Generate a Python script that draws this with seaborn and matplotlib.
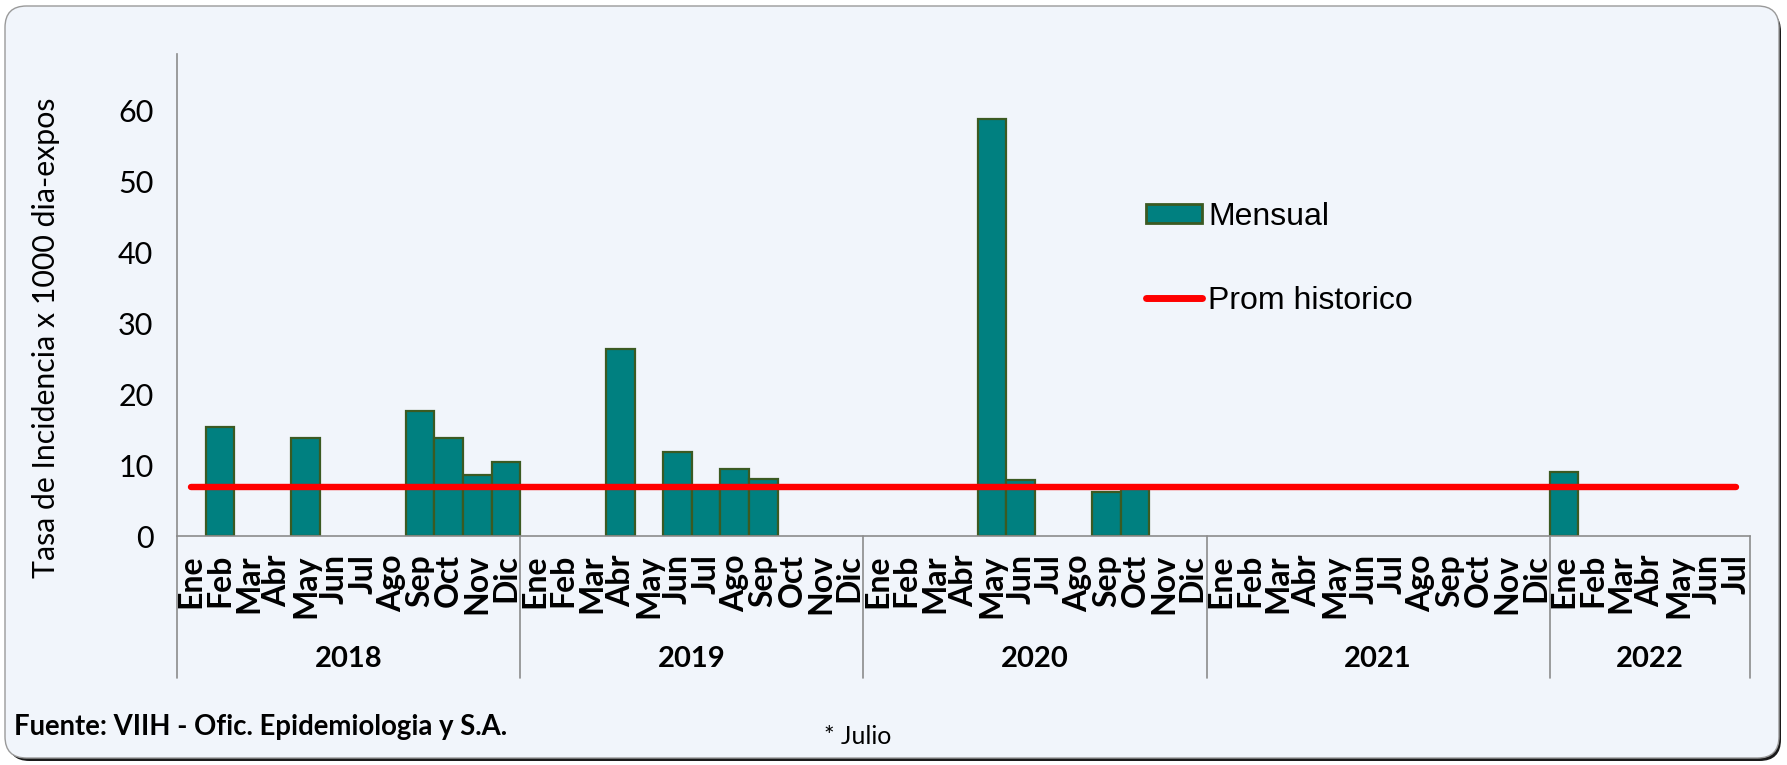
import numpy as np
import pandas as pd
import matplotlib
matplotlib.use("Agg")
import matplotlib.pyplot as plt
import matplotlib.transforms as mtransforms
from matplotlib.patches import FancyBboxPatch, Patch
from matplotlib.lines import Line2D
import seaborn as sns

# ---------------- data ----------------
years = ["2018", "2019", "2020", "2021", "2022"]
months_full = ["Ene", "Feb", "Mar", "Abr", "May", "Jun", "Jul", "Ago", "Sep", "Oct", "Nov", "Dic"]
months_per_year = [12, 12, 12, 12, 7]

v2018 = [np.nan, 15.4, np.nan, np.nan, 13.8, np.nan, np.nan, np.nan, 17.6, 13.8, 8.6, 10.5]
v2019 = [np.nan, np.nan, np.nan, 26.4, np.nan, 11.8, 7.0, 9.5, 8.0, np.nan, np.nan, np.nan]
v2020 = [np.nan, np.nan, np.nan, np.nan, 58.8, 7.9, np.nan, np.nan, 6.2, 6.9, np.nan, np.nan]
v2021 = [np.nan] * 12
v2022 = [9.0, np.nan, np.nan, np.nan, np.nan, np.nan, np.nan]
prom_historico = 6.9

series_label = "Mensual"
line_label = "Prom historico"
y_label = "Tasa de Incidencia x 1000 dia-expos"
y_ticks = [0, 10, 20, 30, 40, 50, 60]
source_text = "Fuente: VIIH - Ofic. Epidemiologia y S.A."
note_text = "* Julio"

# ---------------- build table ----------------
values_by_year = [v2018, v2019, v2020, v2021, v2022]
rows = []
for yr, n, vals in zip(years, months_per_year, values_by_year):
    for m, v in zip(months_full[:n], vals):
        rows.append({"key": f"{yr}-{m}", "year": yr, "mes": m, "valor": v})
df = pd.DataFrame(rows)
order = list(df["key"])
n_cat = len(order)

# ---------------- styling ----------------
sns.set_theme(style="white")
plt.rcParams["font.family"] = ["Lato", "DejaVu Sans"]

W, H = 1787, 765
fig = plt.figure(figsize=(W / 100, H / 100), dpi=100)
fig.patch.set_facecolor("white")

# outer rounded frame with shadow
shadow = FancyBboxPatch((8 / W, 4 / H), (W - 14) / W, (H - 14) / H,
                        boxstyle="round,pad=0,rounding_size=0.012",
                        transform=fig.transFigure, facecolor="#1a1a1a",
                        edgecolor="none", zorder=-2, mutation_aspect=W / H)
fig.patches.append(shadow)
frame = FancyBboxPatch((5 / W, 7 / H), (W - 13) / W, (H - 13) / H,
                       boxstyle="round,pad=0,rounding_size=0.012",
                       transform=fig.transFigure, facecolor="#f1f5fb",
                       edgecolor="#9a9a9a", linewidth=1.0, zorder=-1,
                       mutation_aspect=W / H)
fig.patches.append(frame)

ax_l, ax_r, ax_t, ax_b = 177, 1750, 54, 536
ax = fig.add_axes([ax_l / W, 1 - ax_b / H, (ax_r - ax_l) / W, (ax_b - ax_t) / H])
ax.set_facecolor("none")
ax.set_zorder(1)

sns.barplot(data=df, x="key", y="valor", order=order, color="#008080",
            saturation=1, edgecolor="#3b5a22", linewidth=1.6, width=1.0,
            errorbar=None, ax=ax, zorder=2)

xs = np.arange(n_cat)
ax.plot(xs, [prom_historico] * n_cat, color="#ff0000", linewidth=4.6,
        solid_capstyle="round", zorder=3)

ax.set_xlim(-0.5, n_cat - 0.5)
ax.set_ylim(0, 68)
ax.set_yticks(y_ticks)
ax.set_yticklabels([str(t) for t in y_ticks], fontsize=22, color="black")
ax.tick_params(axis="y", direction="in", length=6, width=1, color="#8c8c8c", pad=17)

ax.set_xticks(xs)
ax.set_xticklabels(list(df["mes"]), rotation=90, fontsize=23,
                   fontweight="bold", color="black", va="top", ha="center")
ax.tick_params(axis="x", length=0, pad=13)
ax.set_xlabel("")
ax.set_ylabel("")

for s in ["top", "right"]:
    ax.spines[s].set_visible(False)
for s in ["left", "bottom"]:
    ax.spines[s].set_color("#8c8c8c")
    ax.spines[s].set_linewidth(1.2)

# year separators and labels
trans = mtransforms.blended_transform_factory(ax.transData, ax.transAxes)
y_sep = (ax_b - 678) / (ax_b - ax_t)
bounds = np.concatenate([[0], np.cumsum(months_per_year)]) - 0.5
for b in bounds:
    ax.plot([b, b], [0, y_sep], transform=trans, color="#8c8c8c",
            linewidth=1.2, clip_on=False, zorder=1)
y_year = (ax_b - 659) / (ax_b - ax_t)
for i, yr in enumerate(years):
    ax.text((bounds[i] + bounds[i + 1]) / 2, y_year, yr, transform=trans,
            ha="center", va="center", fontsize=21, fontweight="bold",
            color="black", clip_on=False)

# legend
handles = [Patch(facecolor="#008080", edgecolor="#3b5a22", linewidth=2.0, label=series_label),
           Line2D([0], [0], color="#ff0000", linewidth=5, solid_capstyle="round", label=line_label)]
leg = fig.legend(handles=handles, loc="upper left", bbox_to_anchor=(1146 / W, 1 - 202 / H),
                 frameon=False, prop={"family": "Liberation Sans", "size": 23},
                 labelcolor="black",
                 handlelength=1.75, handleheight=0.55, handletextpad=0.2,
                 labelspacing=1.68, borderpad=0, borderaxespad=0)

# y label
fig.text(46 / W, 1 - 338 / H, y_label, rotation=90, ha="center", va="center",
         fontsize=21.8, color="black")

# footer
fig.text(14 / W, 1 - 727 / H, source_text, ha="left", va="center",
         fontsize=19.8, fontweight="bold", color="black")
fig.text(824 / W, 1 - 737 / H, note_text, ha="left", va="center",
         fontsize=18, color="black")

fig.savefig("out.png", dpi=100, facecolor=fig.get_facecolor())
